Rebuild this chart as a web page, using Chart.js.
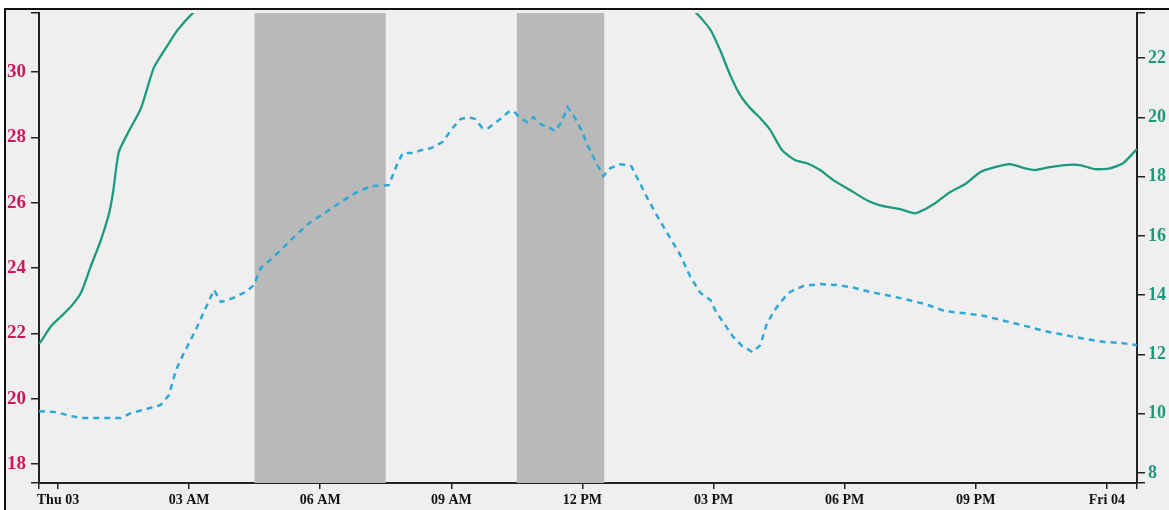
<!DOCTYPE html>
<html>
<head>
<meta charset="utf-8">
<script src="https://cdn.jsdelivr.net/npm/chart.js@4.4.1/dist/chart.umd.min.js"></script>
<style>
  html, body { margin: 0; padding: 0; background: #ffffff; width: 1169px; height: 510px; overflow: hidden; }
  #frame { position: absolute; left: 4px; top: 8px; width: 1165px; height: 502px;
           border-top: 2px solid #111; border-left: 2px solid #111; overflow: hidden; background: #efefef; }
  #wrap { position: absolute; left: -6px; top: -10px; width: 1169px; height: 510px; }
</style>
</head>
<body>
<div id="frame"><div id="wrap"><canvas id="c" width="1169" height="510"></canvas></div></div>
<script>
// X axis: hours since Thu 03 00:00
const xTickLabels = ['Thu 03', '03 AM', '06 AM', '09 AM', '12 PM', '03 PM', '06 PM', '09 PM', 'Fri 04'];
const xRange = [-0.434, 24.69];
const leftRange = [17.42, 31.81];
const rightRange = [7.66, 23.52];
const leftTicks = [18, 20, 22, 24, 26, 28, 30];
const rightTicks = [8, 10, 12, 14, 16, 18, 20, 22];
const shadedBands = [[4.5, 7.5], [10.5, 12.5]];

// Solid green series (right axis)
const greenHours = [-0.434, -0.39, -0.16, 0.07, 0.30, 0.53, 0.75, 0.98, 1.17, 1.26, 1.39, 1.60, 1.90, 2.19, 2.47, 2.74, 3.11,
  3.5, 4.5, 6.0, 8.0, 10.0, 12.0, 13.5,
  14.58, 14.93, 15.15, 15.38, 15.61, 15.84, 16.07, 16.30, 16.57, 16.87, 17.14, 17.44, 17.74, 18.13, 18.51, 18.81,
  19.27, 19.61, 19.84, 20.07, 20.41, 20.75, 21.10, 21.44, 21.78, 22.13, 22.35, 22.70, 23.04, 23.38, 23.73, 24.07, 24.37, 24.69];
const greenValues = [12.37, 12.44, 12.95, 13.28, 13.62, 14.09, 14.97, 15.85, 16.76, 17.47, 18.82, 19.47, 20.31, 21.66, 22.34, 22.95, 23.55,
  24.0, 24.8, 25.5, 25.9, 25.8, 25.3, 24.6,
  23.55, 22.95, 22.27, 21.43, 20.75, 20.31, 19.97, 19.57, 18.89, 18.55, 18.45, 18.22, 17.88, 17.54, 17.20, 17.03,
  16.90, 16.76, 16.90, 17.10, 17.47, 17.74, 18.15, 18.32, 18.42, 18.28, 18.22, 18.32, 18.39, 18.39, 18.25, 18.28, 18.45, 18.93];

// Dashed blue series (left axis)
const blueHours = [-0.434, -0.05, 0.30, 0.53, 0.98, 1.44, 1.67, 2.01, 2.35, 2.54, 2.70, 2.86, 3.15, 3.38, 3.57, 3.73, 4.00, 4.30, 4.48,
  4.64, 4.91, 5.21, 5.44, 5.78, 6.13, 6.47, 6.81, 7.15, 7.57, 7.77, 7.89, 8.14, 8.30, 8.53, 8.80, 9.03, 9.21, 9.39, 9.55,
  9.71, 9.85, 10.06, 10.31, 10.42, 10.58, 10.74, 10.88, 11.04, 11.22, 11.38, 11.52, 11.66, 11.82, 11.98, 12.14, 12.32, 12.48,
  12.64, 12.87, 13.12, 13.28, 13.51, 13.74, 13.97, 14.24, 14.47, 14.70, 14.93, 15.06, 15.25, 15.45, 15.66, 15.89, 16.07,
  16.21, 16.37, 16.53, 16.75, 17.05, 17.44, 17.83, 18.24, 18.58, 18.97, 19.38, 19.84, 20.30, 20.75, 21.21, 21.67, 22.13,
  22.58, 23.04, 23.50, 23.95, 24.30, 24.69];
const blueValues = [19.62, 19.59, 19.47, 19.41, 19.41, 19.41, 19.56, 19.68, 19.81, 20.11, 20.88, 21.34, 22.10, 22.78, 23.33, 22.96, 23.08, 23.27, 23.48,
  24.00, 24.31, 24.70, 25.01, 25.41, 25.71, 26.02, 26.30, 26.51, 26.54, 27.21, 27.52, 27.52, 27.61, 27.67, 27.86, 28.29, 28.56, 28.62, 28.56,
  28.29, 28.29, 28.50, 28.78, 28.81, 28.59, 28.47, 28.62, 28.41, 28.32, 28.19, 28.47, 28.93, 28.62, 28.22, 27.70, 27.21, 26.82,
  27.06, 27.18, 27.12, 26.69, 26.08, 25.53, 25.01, 24.40, 23.73, 23.24, 23.02, 22.65, 22.29, 21.89, 21.61, 21.43, 21.64,
  22.26, 22.65, 22.96, 23.27, 23.45, 23.51, 23.48, 23.39, 23.27, 23.17, 23.05, 22.90, 22.68, 22.62, 22.53, 22.38, 22.23,
  22.07, 21.95, 21.83, 21.74, 21.71, 21.64];

const toPoints = (xs, ys) => xs.map((x, i) => ({ x: x, y: ys[i] }));

const bandPlugin = {
  id: 'bands',
  beforeDatasetsDraw(chart) {
    const { ctx, chartArea, scales } = chart;
    ctx.save();
    ctx.fillStyle = '#b9b9b9';
    shadedBands.forEach(([a, b]) => {
      const x1 = scales.x.getPixelForValue(a);
      const x2 = scales.x.getPixelForValue(b);
      ctx.fillRect(x1, chartArea.top, x2 - x1, chartArea.bottom - chartArea.top);
    });
    ctx.restore();
  }
};

const axisCommon = {
  grid: { drawOnChartArea: false, drawTicks: true, tickLength: 8, color: '#222', lineWidth: 1.5 },
  border: { display: true, color: '#222', width: 2 }
};

new Chart(document.getElementById('c'), {
  type: 'line',
  data: {
    datasets: [
      { data: toPoints(greenHours, greenValues), yAxisID: 'yR', borderColor: '#1d9a7c', borderWidth: 2.3,
        pointRadius: 0, tension: 0.2, fill: false },
      { data: toPoints(blueHours, blueValues), yAxisID: 'yL', borderColor: '#2ea8d6', borderWidth: 2.5,
        borderDash: [6, 5], pointRadius: 0, tension: 0, fill: false }
    ]
  },
  options: {
    responsive: false,
    animation: false,
    events: [],
    layout: { padding: { top: 13, left: 0, right: 0, bottom: 0 } },
    plugins: { legend: { display: false }, tooltip: { enabled: false } },
    scales: {
      x: {
        type: 'linear', min: xRange[0], max: xRange[1],
        grid: { drawOnChartArea: false, drawTicks: true, tickLength: 6, color: '#222', lineWidth: 1.5 },
        border: { display: true, color: '#222', width: 2 },
        afterFit(scale) { scale.height = 27; scale.paddingLeft = 0; scale.paddingRight = 0; },
        afterBuildTicks(scale) {
          scale.ticks = [xRange[0], ...xTickLabels.map((_, i) => i * 3), xRange[1]].map(v => ({ value: v }));
        },
        ticks: {
          autoSkip: false, maxRotation: 0, minRotation: 0, padding: 3, color: '#111',
          font: { family: 'Liberation Serif', size: 14, weight: 'bold' },
          callback(v) {
            const i = Math.round(v / 3);
            return (Math.abs(v - i * 3) < 1e-6 && i >= 0 && i < xTickLabels.length) ? xTickLabels[i] : '';
          }
        }
      },
      yL: {
        type: 'linear', position: 'left', min: leftRange[0], max: leftRange[1],
        ...axisCommon,
        afterFit(scale) { scale.width = 39; scale.paddingTop = 0; scale.paddingBottom = 0; },
        afterBuildTicks(scale) {
          scale.ticks = [leftRange[0], ...leftTicks, leftRange[1]].map(v => ({ value: v }));
        },
        ticks: {
          autoSkip: false, padding: 5, color: '#d3145c',
          font: { family: 'Liberation Serif', size: 19, weight: 'bold' },
          callback(v) { return leftTicks.includes(v) ? String(v) : ''; }
        }
      },
      yR: {
        type: 'linear', position: 'right', min: rightRange[0], max: rightRange[1],
        ...axisCommon,
        afterFit(scale) { scale.width = 32; scale.paddingTop = 0; scale.paddingBottom = 0; },
        afterBuildTicks(scale) {
          scale.ticks = [rightRange[0], ...rightTicks, rightRange[1]].map(v => ({ value: v }));
        },
        ticks: {
          autoSkip: false, padding: 3, color: '#1d9a7c',
          font: { family: 'Liberation Serif', size: 18, weight: 'bold' },
          callback(v) { return rightTicks.includes(v) ? String(v) : ''; }
        }
      }
    }
  },
  plugins: [bandPlugin]
});
</script>
</body>
</html>
